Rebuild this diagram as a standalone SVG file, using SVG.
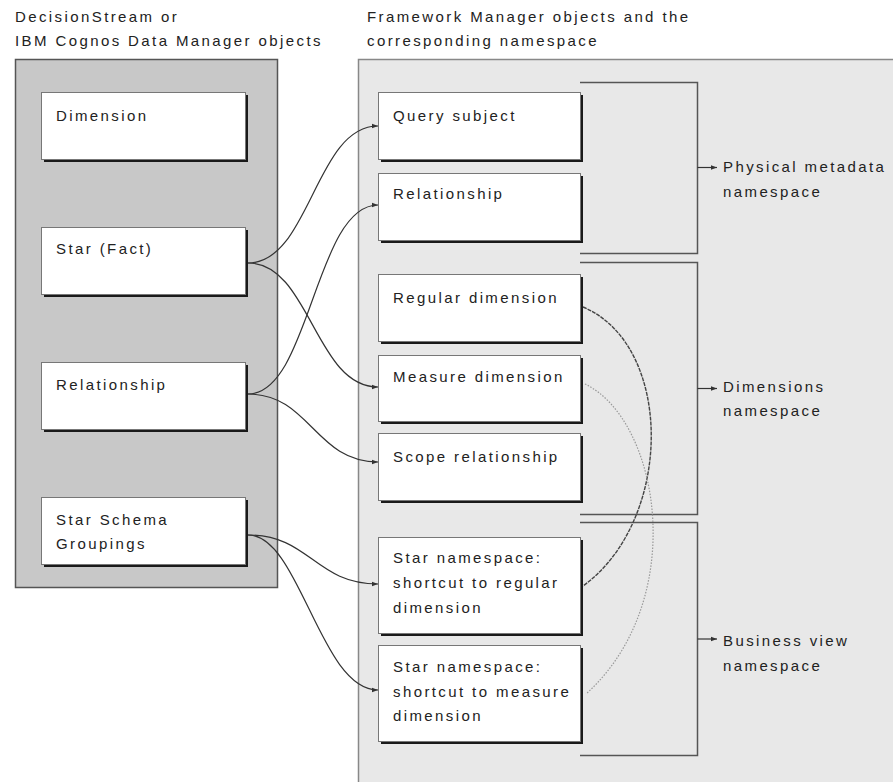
<svg xmlns="http://www.w3.org/2000/svg" width="893" height="782" viewBox="0 0 893 782">
<style>
text{font-family:"Liberation Sans",Arial,sans-serif;font-size:15px;letter-spacing:2.4px;fill:#222}
.box{fill:#fff;stroke:#777;stroke-width:1}
.sh{fill:#1a1a1a}
.conn{fill:none;stroke:#333;stroke-width:1.2}
.brk{fill:none;stroke:#555;stroke-width:1.5}
.arc{fill:none;stroke:#444;stroke-width:1.4;stroke-dasharray:4 1}
.dot{fill:none;stroke:#999;stroke-width:1.2;stroke-dasharray:1.5 1.5}
</style>
<defs>
<marker id="ah" viewBox="0 0 6 6" refX="6" refY="3" markerWidth="6" markerHeight="6" markerUnits="userSpaceOnUse" orient="auto"><path d="M0,0.8 L6,3 L0,5.2 z" fill="#333"/></marker>
</defs>
<rect width="893" height="782" fill="#fff"/>
<g id="titles">
<text x="15" y="22">DecisionStream or</text>
<text x="15" y="46">IBM Cognos Data Manager objects</text>
<text x="367" y="22">Framework Manager objects and the</text>
<text x="367" y="46">corresponding namespace</text>
</g>
<g id="panel-left"><rect x="15.5" y="59.5" width="262" height="528" fill="#c8c8c8" stroke="#555" stroke-width="1.5"/></g>
<g id="panel-right"><rect x="358.5" y="59.5" width="540" height="730" fill="#e8e8e8" stroke="#888" stroke-width="1.5"/></g>

<g id="l-dimension"><rect class="sh" x="44" y="95" width="204" height="67"/><rect class="box" x="41.5" y="92.5" width="204" height="67"/><text x="56" y="121">Dimension</text></g>
<g id="l-star"><rect class="sh" x="44" y="230" width="204" height="67"/><rect class="box" x="41.5" y="227.5" width="204" height="67"/><text x="56" y="254">Star (Fact)</text></g>
<g id="l-relationship"><rect class="sh" x="44" y="365" width="204" height="67"/><rect class="box" x="41.5" y="362.5" width="204" height="67"/><text x="56" y="390">Relationship</text></g>
<g id="l-groupings"><rect class="sh" x="44" y="500" width="204" height="67"/><rect class="box" x="41.5" y="497.5" width="204" height="67"/><text x="56" y="525">Star Schema</text><text x="56" y="549">Groupings</text></g>

<g id="r-query"><rect class="sh" x="381" y="95" width="202" height="67"/><rect class="box" x="378.5" y="92.5" width="202" height="67"/><text x="393" y="121">Query subject</text></g>
<g id="r-relationship"><rect class="sh" x="381" y="176" width="202" height="67"/><rect class="box" x="378.5" y="173.5" width="202" height="67"/><text x="393" y="199">Relationship</text></g>
<g id="r-regular"><rect class="sh" x="381" y="277" width="202" height="67"/><rect class="box" x="378.5" y="274.5" width="202" height="67"/><text x="393" y="303">Regular dimension</text></g>
<g id="r-measure"><rect class="sh" x="381" y="358" width="202" height="66"/><rect class="box" x="378.5" y="355.5" width="202" height="66"/><text x="393" y="382">Measure dimension</text></g>
<g id="r-scope"><rect class="sh" x="381" y="436" width="202" height="67"/><rect class="box" x="378.5" y="433.5" width="202" height="67"/><text x="393" y="462">Scope relationship</text></g>
<g id="r-star-reg"><rect class="sh" x="381" y="540" width="202" height="96"/><rect class="box" x="378.5" y="537.5" width="202" height="96"/><text x="393" y="563">Star namespace:</text><text x="393" y="588">shortcut to regular</text><text x="393" y="613">dimension</text></g>
<g id="r-star-meas"><rect class="sh" x="381" y="648" width="202" height="96"/><rect class="box" x="378.5" y="645.5" width="202" height="96"/><text x="393" y="672">Star namespace:</text><text x="393" y="697">shortcut to measure</text><text x="393" y="721">dimension</text></g>

<g id="ns-physical"><path class="brk" d="M580,82.5 H697.5 V253.5 H580"/><path class="conn" d="M697.5,167.5 H717" marker-end="url(#ah)"/><text x="723" y="172">Physical metadata</text><text x="723" y="197">namespace</text></g>
<g id="ns-dimensions"><path class="brk" d="M580,262.5 H697.5 V514.5 H580"/><path class="conn" d="M697.5,388.5 H717" marker-end="url(#ah)"/><text x="723" y="392">Dimensions</text><text x="723" y="416">namespace</text></g>
<g id="ns-business"><path class="brk" d="M580,522.5 H697.5 V755.5 H580"/><path class="conn" d="M697.5,639 H717" marker-end="url(#ah)"/><text x="723" y="646">Business view</text><text x="723" y="671">namespace</text></g>

<g id="connectors">
<path class="conn" d="M248,263 C310,263 315,126 378,126" marker-end="url(#ah)"/>
<path class="conn" d="M248,263 C310,263 315,387 378,387" marker-end="url(#ah)"/>
<path class="conn" d="M248,394 C310,394 315,205 378,205" marker-end="url(#ah)"/>
<path class="conn" d="M248,394 C310,394 315,462 378,462" marker-end="url(#ah)"/>
<path class="conn" d="M248,535 C310,535 315,584 378,584" marker-end="url(#ah)"/>
<path class="conn" d="M248,535 C300,535 320,690 378,690" marker-end="url(#ah)"/>
<path class="arc" d="M583,307 C674,345 674,520 583,586"/>
<path class="dot" d="M585,384 C660,420 690,600 586,694"/>
</g>
</svg>
